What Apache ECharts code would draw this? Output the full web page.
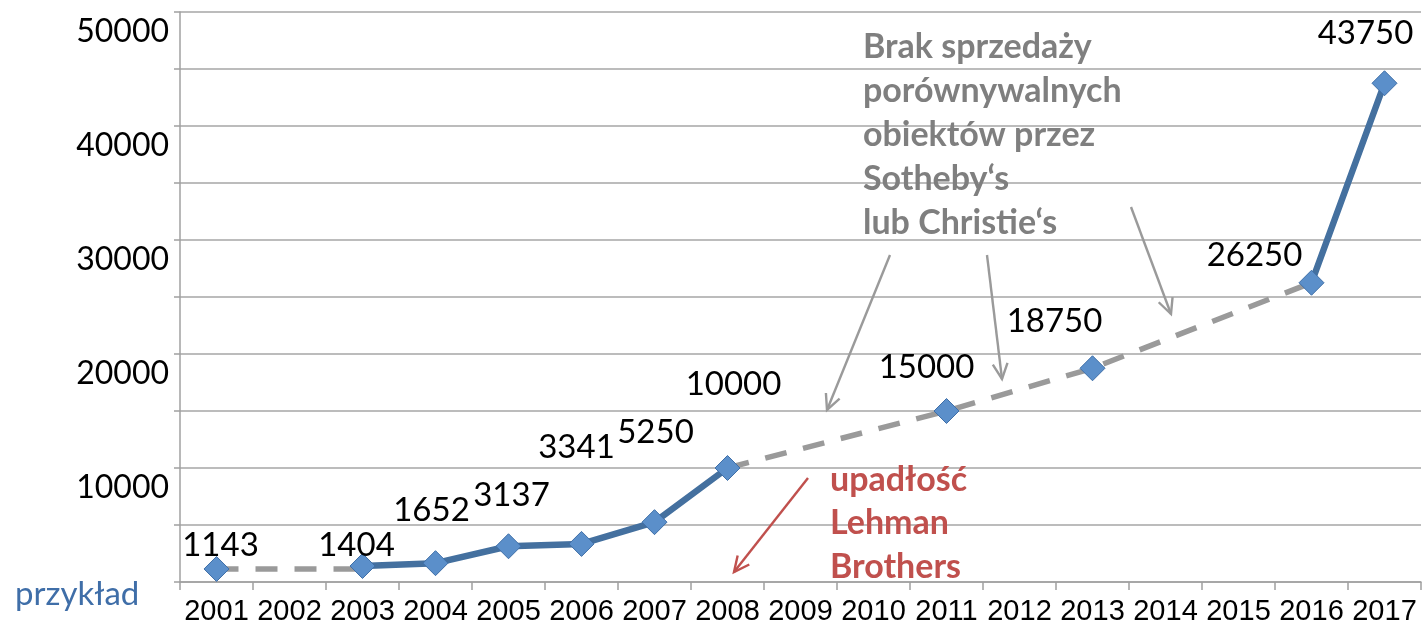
<!DOCTYPE html>
<html style="height: 100%">
<head>
<meta charset="utf-8">
<title>przykład</title>
</head>
<body style="height: 100%; margin: 0; background: #fff">
<div id="container" style="width:1422px;height:626px"></div>
<script type="text/javascript" src="https://cdn.jsdelivr.net/npm/echarts@6/dist/echarts.min.js"></script>
<script type="text/javascript">
// years on the x axis
var years = ['2001', '2002', '2003', '2004', '2005', '2006', '2007', '2008', '2009',
    '2010', '2011', '2012', '2013', '2014', '2015', '2016', '2017'];
// every known price (diamonds + labels)
var prices = [1143, '-', 1404, 1652, 3137, 3341, 5250, 10000, '-',
    '-', 15000, '-', 18750, '-', '-', 26250, 43750];
// solid blue parts
var solid = ['-', '-', 1404, 1652, 3137, 3341, 5250, 10000, '-',
    '-', '-', '-', '-', '-', '-', 26250, 43750];
// dashed grey bridges (no comparable sales)
var gapEarly = [1143, '-', 1143, '-', '-', '-', '-', '-', '-',
    '-', '-', '-', '-', '-', '-', '-', '-'];
var gapLate = ['-', '-', '-', '-', '-', '-', '-', 10000, '-',
    '-', 15000, '-', 18750, '-', '-', 26250, '-'];

// where each value label sits relative to its diamond (px)
var labelShift = [[4, -24], null, [-6, -21], [-4, -53], [3, -51], [-5, -97], [1, -90], [6, -84], null,
    null, [-20, -44], null, [-38, -47], null, null, [-57, -27], [-19, -50]];

var dom = document.getElementById('container');
var myChart = echarts.init(dom);

var pointData = prices.map(function (v, i) {
    if (v === '-') return '-';
    return {value: v, label: {offset: labelShift[i]}};
});

function arrow(x1, y1, x2, y2, color) {
    var a = Math.atan2(y2 - y1, x2 - x1);
    var len = 17, spread = 0.45;
    return [
        {type: 'line', shape: {x1: x1, y1: y1, x2: x2, y2: y2},
            style: {stroke: color, lineWidth: 2.4}, z: 10},
        {type: 'polyline', shape: {points: [
            [x2 - len * Math.cos(a - spread), y2 - len * Math.sin(a - spread)],
            [x2, y2],
            [x2 - len * Math.cos(a + spread), y2 - len * Math.sin(a + spread)]
        ]}, style: {stroke: color, lineWidth: 2.4, fill: null}, z: 10}
    ];
}

var grey = '#9a9a9a';
var red = '#c0504d';
var graphics = []
    .concat(arrow(890, 255, 827, 410, grey))
    .concat(arrow(987, 255, 1002, 379, grey))
    .concat(arrow(1131, 207, 1171, 314, grey))
    .concat(arrow(808, 478, 734, 572, red));

graphics.push({
    type: 'text', left: 863, top: 25, z: 10,
    style: {
        text: 'Brak sprzedaży\nporównywalnych\nobiektów przez\nSotheby‘s\nlub Christie‘s',
        font: 'bold 34px Lato', fill: '#7f7f7f', lineHeight: 44
    }
});
graphics.push({
    type: 'text', left: 830, top: 458, z: 10,
    style: {
        text: 'upadłość\nLehman\nBrothers',
        font: 'bold 34px Lato', fill: red, lineHeight: 43.5
    }
});
graphics.push({
    type: 'text', left: 15, top: 578, z: 10,
    style: {text: 'przykład', font: '33px Lato', fill: '#3f6ea8'}
});

var option = {
    animation: false,
    backgroundColor: '#fff',
    grid: {left: 180, right: 1, top: 12, bottom: 42, containLabel: false},
    xAxis: {
        type: 'category',
        data: years,
        boundaryGap: true,
        axisLine: {show: true, lineStyle: {color: '#a0a0a0', width: 1.5}},
        axisTick: {show: true, length: 8, interval: 0, lineStyle: {color: '#a0a0a0', width: 1.5}},
        axisLabel: {
            interval: 0, margin: 15, color: '#000', fontSize: 29,
            fontFamily: "'Liberation Sans', Arial"
        },
        splitLine: {show: false}
    },
    yAxis: {
        type: 'value',
        min: 0,
        max: 50000,
        interval: 5000,
        axisLine: {show: true, lineStyle: {color: '#a0a0a0', width: 1.5}},
        axisTick: {show: true, length: 6, lineStyle: {color: '#a0a0a0', width: 1.5}},
        splitLine: {show: true, lineStyle: {color: '#a6a6a6', width: 1.5}},
        axisLabel: {
            margin: 11, color: '#000', fontSize: 32, fontFamily: 'Lato',
            verticalAlign: 'top', lineHeight: 32, padding: [4, 0, 0, 0],
            formatter: function (v) {
                return (v > 0 && v % 10000 === 0) ? String(v) : '';
            }
        }
    },
    series: [{
        type: 'line',
        data: gapEarly,
        connectNulls: true,
        showSymbol: false,
        symbol: 'none',
        lineStyle: {color: grey, width: 5.5, type: [22, 17]},
        z: 2
    }, {
        type: 'line',
        data: gapLate,
        connectNulls: true,
        showSymbol: false,
        symbol: 'none',
        lineStyle: {color: grey, width: 5.5, type: [22, 17]},
        z: 2
    }, {
        type: 'line',
        data: solid,
        connectNulls: false,
        showSymbol: false,
        symbol: 'none',
        lineStyle: {color: '#44709f', width: 6.5},
        z: 3
    }, {
        type: 'scatter',
        data: pointData,
        symbol: 'diamond',
        symbolSize: 25,
        itemStyle: {color: '#5b8fca', borderColor: '#3f6fa8', borderWidth: 1, opacity: 1},
        label: {
            show: true,
            position: 'inside',
            color: '#000',
            opacity: 1,
            fontSize: 33,
            fontFamily: 'Lato'
        },
        emphasis: {disabled: true},
        z: 4
    }],
    graphic: graphics
};

myChart.setOption(option);
</script>
</body>
</html>
